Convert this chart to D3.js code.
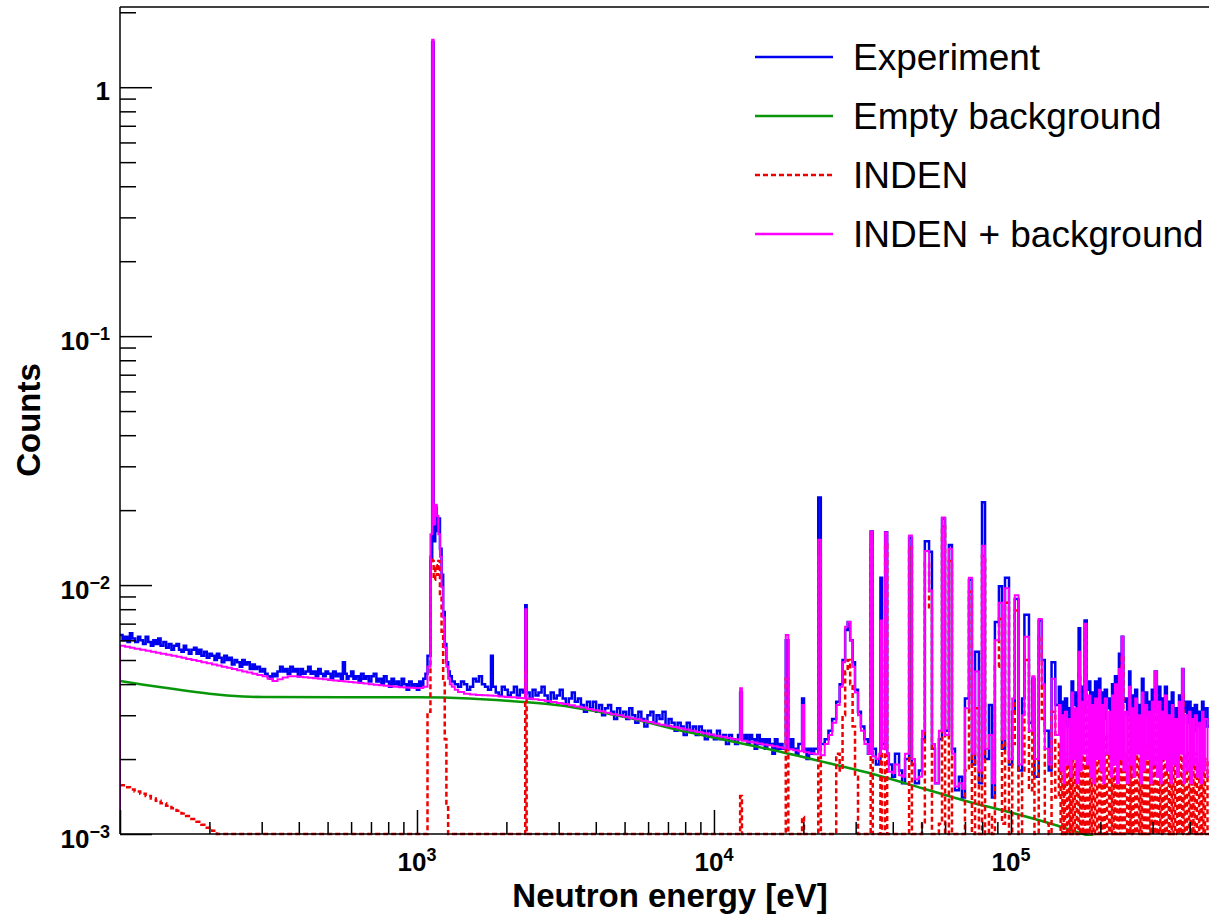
<!DOCTYPE html>
<html>
<head>
<meta charset="utf-8">
<script src="https://cdn.jsdelivr.net/npm/d3@7"></script>
<style>
  html, body { margin: 0; padding: 0; background: #fff; overflow: hidden; }
  svg { display: block; }
  text { font-family: "Liberation Sans", Arial, Helvetica, sans-serif; fill: #000; }
</style>
</head>
<body>
<svg id="chart" width="1209" height="916"></svg>
<script>
// ---- measured spectrum: bin left edges (eV) and counts ----
const experimentEdges = [
  100,102,104,106,108,110,112.5,115,117,119.5,122,124.5,127,129.5,132,134.5,137,140,143,146,
  149,152,155,158,161,164,167,170.5,174,177.5,181,184.5,188,192,196,200,204,208,212,216,
  220,224.5,229,233.5,238,243,248,253,258,263,268,273.5,279,284.5,290,296,302,308,314,320,
  326,332.5,339,346,353,360,367,374.5,382,389.5,397,405,413,421.5,430,438.5,447,456,465,474,
  483,492.5,502,512,522,532.5,543,554,563,572,580,588,600,611,623,636,648,661,674,688,
  702,715,730,744,759,774,790,805,821,837,854,870,888,905,923,941,960,979,999,1018,
  1034,1050,1068,
  1085,1110,1125,1138,1152,1166,1180,1195,1210,1225,1240,1256,1273,1290,1310,1340,
  1375,1407,1440,1475,1510,1545,1580,1617,1655,1695,1735,1775,1800,1842,1885,1930,1975,2022,2070,2120,
  2170,2220,2270,2315,2340,2395,2450,2507,2565,2627,2690,2755,2820,2887,2955,3025,3095,3170,3245,3322,
  3400,3482,3565,3650,3735,3825,3915,4010,4105,4200,4300,4400,4505,4612,4720,4835,4950,5067,5185,5310,
  5435,5565,5695,5830,5970,6110,6255,6405,6555,6710,6870,7035,7200,7370,7545,7725,7905,8095,8285,8485,
  8685,8890,9100,9315,9535,9765,9995,10235,10475,10725,10975,11235,11500,11775,12050,12250,12420,
  12670,12920,13180,13440,13710,13980,14260,14540,14830,15120,15420,15730,16040,16360,16680,17010,
  17450,17800,18150,18500,18870,19250,19800,20100,20500,20900,21320,21750,22450,22900,
  23600,24300,25000,25800,26500,27100,27650,28200,28750,29300,29850,30550,31250,32100,33000,33700,
  34250,35100,36000,36350,36800,37700,38300,
  38800,39800,40700,42000,43000,44000,45400,46400,47500,49000,50200,51300,53000,54200,
  55500,57200,58600,60000,61800,63300,64800,66800,68400,70000,72200,73900,75700,78000,
  79900,81800,84300,86300,88300,91100,93300,95500,98500,101000,103000,106000,109000,
  111000,115000,118000,120000,124000,127000,130000,134000,137000,141000,
  145000,147000,149000,150500,152000,154500,157000,158500,160000,162000,
  164000,166500,169000,171000,173000,175000,177000,180000,183000,185000,
  187000,189500,192000,195000,198000,200000,202000,204500,207000,210500,
  214000,216500,219000,221500,224000,227500,231000,233500,236000,239000,
  242000,246000,250000,252500,255000,258500,262000,266000,270000,273000,
  276000,279500,283000,287500,292000,295000,298000,301500,305000,310000,
  315000,318500,322000,326000,330000,335000,340000,344000,348000,352500,
  357000,362500,368000,372500,377000,381000,385000,391500,398000,402500,
  407000,411500,416000,423000,430000,435000,440000,445000,450000,459000
];
const experimentCounts = [
  0.0063,0.0060,0.0062,0.0059,0.0064,0.0061,0.0059,0.0062,0.0060,0.0058,
  0.0062,0.0059,0.0057,0.0060,0.0058,0.0061,0.0057,0.0059,0.0056,0.0058,
  0.0055,0.0057,0.0058,0.0055,0.0054,0.0057,0.0055,0.0053,0.0055,0.0056,
  0.0053,0.0055,0.0052,0.0054,0.0051,0.0053,0.0052,0.0050,0.0053,0.0051,
  0.0049,0.0052,0.0050,0.0051,0.0048,0.0050,0.0049,0.0047,0.0050,0.0048,
  0.0049,0.0046,0.0048,0.0046,0.0047,0.0045,0.0046,0.0044,0.0043,0.0042,
  0.0044,0.0043,0.0045,0.0047,0.0045,0.0046,0.0044,0.0047,0.0045,0.0046,
  0.0043,0.0046,0.0044,0.0045,0.0047,0.0044,0.0045,0.0043,0.0046,0.0044,
  0.0043,0.0045,0.0044,0.0042,0.0045,0.0043,0.0044,0.0042,0.0049,0.0044,
  0.0042,0.0043,0.0045,0.0042,0.0043,0.0041,0.0044,0.0042,0.0043,0.0041,
  0.0043,0.0044,0.0041,0.0042,0.0040,0.0043,0.0041,0.0039,0.0042,0.0040,
  0.0041,0.0039,0.0042,0.0040,0.0038,0.0041,0.0039,0.0040,0.0038,0.0041,
  0.0039,0.0042,0.0044,
  0.0052,0.0125,1.52,0.0150,0.0205,0.0165,0.0185,0.0140,0.0110,0.0078,0.0058,0.0049,
  0.0045,0.0043,0.0041,0.0040,
  0.0039,0.0041,0.0040,0.0038,0.0039,0.0042,0.0041,0.0043,0.0040,0.0039,
  0.0038,0.0052,0.0039,0.0037,0.0036,0.0039,0.0038,0.0036,0.0037,0.0039,
  0.0036,0.0038,0.0037,0.0083,0.0037,0.0035,0.0038,0.0036,0.0037,0.0039,
  0.0036,0.0034,0.0037,0.0035,0.0036,0.0038,0.0035,0.0033,0.0035,0.0037,
  0.0034,0.0035,0.0033,0.0031,0.0034,0.0032,0.0034,0.0031,0.0033,0.0030,
  0.0032,0.0033,0.0031,0.0029,0.0032,0.0030,0.0031,0.0029,0.0032,0.0030,
  0.0028,0.0031,0.0029,0.0027,0.0030,0.0031,0.0028,0.0030,0.0029,0.0031,
  0.0027,0.0029,0.0028,0.0026,0.0028,0.0027,0.0025,0.0028,0.0026,0.0027,
  0.0025,0.0027,0.0026,0.0024,0.0026,0.0025,0.0024,0.0026,0.0024,0.0025,
  0.0023,0.0025,0.0024,0.0023,0.0025,0.0037,0.0024,
  0.0025,0.0023,0.0025,0.0024,0.0022,0.0025,0.0023,0.0024,0.0022,0.0024,
  0.0023,0.0021,0.0024,0.0022,0.0023,0.0022,0.0060,0.0022,0.0024,0.0022,
  0.0021,0.0023,0.0035,0.0022,0.0020,0.0022,0.0021,0.0022,0.0225,0.0023,
  0.0024,0.0026,0.0029,0.0034,0.0040,0.0050,0.0066,0.0071,0.0060,0.0049,
  0.0038,0.0031,0.0027,0.0024,0.0021,0.0164,0.0022,0.0019,0.0020,0.0107,
  0.0023,0.0163,0.0021,
  0.0019,0.0017,0.0021,0.0018,0.0016,0.0020,0.0155,0.0019,0.0016,0.0018,
  0.0024,0.0150,0.0136,0.0022,0.0016,0.0024,0.0185,0.0026,0.0145,0.0022,
  0.0015,0.0017,0.0014,0.0035,0.0105,0.0019,0.0054,0.0016,0.0215,0.0020,
  0.0033,0.0014,0.0071,0.0099,0.0022,0.0107,0.0019,0.0031,0.0088,0.0018,
  0.0035,0.0076,0.0028,0.0042,0.0017,0.0072,0.0050,0.0026,0.0018,0.0049,
  0.0033,
  0.0039,0.0030,0.0034,0.0028,0.0035,0.0027,0.0032,0.0029,0.0041,0.0033,
  0.0037,0.0030,0.0067,0.0034,0.0039,0.0031,0.0072,0.0038,0.0041,0.0032,
  0.0037,0.0030,0.0041,0.0033,0.0042,0.0031,0.0037,0.0029,0.0038,0.0032,
  0.0035,0.0030,0.0040,0.0031,0.0043,0.0033,0.0053,0.0036,0.0062,0.0034,
  0.0035,0.0030,0.0045,0.0031,0.0036,0.0028,0.0038,0.0030,0.0033,0.0029,
  0.0042,0.0032,0.0037,0.0030,0.0034,0.0029,0.0038,0.0031,0.0045,0.0034,
  0.0039,0.0030,0.0035,0.0031,0.0039,0.0029,0.0034,0.0030,0.0037,0.0028,
  0.0032,0.0029,0.0036,0.0030,0.0046,0.0031,0.0034,0.0028,0.0034,0.0027,
  0.0032,0.0026,0.0033,0.0027,0.0031,0.0026,0.0034,0.0027,0.0032,0.0027
];
const lastBinEdge = 468000;

// ---- simulation histograms: bin left edges (eV) ----
const simEdges = [
  100,104,108,112,117,122,127,132,137,143,149,155,161,167,174,181,188,196,204,212,
  220,229,238,248,258,268,279,290,302,314,326,339,353,367,382,397,413,430,447,465,
  483,502,522,543,563,572,588,611,636,661,688,715,744,774,805,837,870,905,941,979,
  1018,1050,
  1085,1110,1125,1138,1152,1166,1180,1195,1210,1225,1240,1256,1273,1290,1310,1340,
  1375,1440,1510,1580,1655,1735,1775,1800,1885,1975,2070,2170,2270,2315,2340,2450,
  2565,2690,2820,2955,3095,3245,3400,3565,3735,3915,4105,4300,4505,4720,4950,5185,
  5435,5695,5970,6255,6555,6870,7200,7545,7905,8285,8685,9100,9535,9995,10475,10975,
  11500,12050,12250,12420,
  12920,13440,13980,14540,15120,15730,16360,17010,17450,17800,18500,19250,19800,20100,
  20900,21750,22450,22900,23600,24300,25000,25800,26500,27100,27650,28200,28750,29300,
  29850,30550,31250,32100,33000,33700,34250,35100,36000,36350,36800,37700,38300,
  38800,39800,40700,42000,43000,44000,45400,46400,47500,49000,50200,51300,53000,54200,
  55500,57200,58600,60000,61800,63300,64800,66800,68400,70000,72200,73900,75700,78000,
  79900,81800,84300,86300,88300,91100,93300,95500,98500,101000,103000,106000,109000,
  111000,115000,118000,120000,124000,127000,130000,134000,137000,141000,
  145000,147000,149000,150500,152000,154500,157000,158500,160000,162000,
  164000,166500,169000,171000,173000,175000,177000,180000,183000,185000,
  187000,189500,192000,195000,198000,200000,202000,204500,207000,210500,
  214000,216500,219000,221500,224000,227500,231000,233500,236000,239000,
  242000,246000,250000,252500,255000,258500,262000,266000,270000,273000,
  276000,279500,283000,287500,292000,295000,298000,301500,305000,310000,
  315000,318500,322000,326000,330000,335000,340000,344000,348000,352500,
  357000,362500,368000,372500,377000,381000,385000,391500,398000,402500,
  407000,411500,416000,423000,430000,435000,440000,445000,450000,459000
];

// ---- INDEN simulation plus empty-sample background ----
const indenPlusBkgCounts = [
  0.0057,0.00565,0.0056,0.00555,0.0055,0.00545,0.0054,0.00535,0.0053,0.00525,
  0.0052,0.00515,0.0051,0.00505,0.0050,0.00495,0.0049,0.00485,0.0048,0.00475,
  0.0047,0.00465,0.0046,0.00455,0.0045,0.00445,0.0044,0.00435,0.0043,0.0042,
  0.00412,0.00418,0.00425,0.0043,0.0043,0.00428,0.00426,0.00424,0.00422,0.0042,
  0.00418,0.00416,0.00414,0.00412,0.00411,0.0041,0.00408,0.00406,0.00404,0.00402,
  0.0040,0.00398,0.00396,0.00394,0.00392,0.0039,0.00389,0.00388,0.00387,0.00386,
  0.00386,0.0039,
  0.0047,0.0160,1.55,0.0175,0.0210,0.0190,0.0160,0.0130,0.0098,0.0074,0.0056,0.0047,
  0.0042,0.0040,0.0039,0.0038,
  0.00372,0.00366,0.00363,0.00362,0.00361,0.0036,0.0036,0.00359,0.00357,0.00355,
  0.00354,0.00352,0.00351,0.0080,0.0035,0.00348,0.00345,0.00342,0.00339,0.00336,
  0.00333,0.00329,0.00325,0.00322,0.00318,0.00314,0.00311,0.00307,0.00303,0.0030,
  0.00296,0.00292,0.00289,0.00285,0.00282,0.00278,0.00275,0.00272,0.00269,0.00266,
  0.00263,0.0026,0.00257,0.00254,0.00251,0.00248,0.00246,0.00243,0.0024,0.00239,
  0.00385,0.00237,
  0.00235,0.00233,0.00231,0.00229,0.00227,0.00225,0.00223,0.00221,0.0063,0.00219,
  0.00217,0.00215,0.0033,0.00213,0.00211,0.00209,0.0152,0.00207,0.0023,0.0025,
  0.0028,0.0033,0.0039,0.0049,0.0068,0.0071,0.0060,0.0047,0.0037,0.0030,
  0.0026,0.0023,0.0021,0.0164,0.00205,0.0020,0.0021,0.0072,0.0022,0.0163,
  0.0021,
  0.00178,0.00176,0.0019,0.00172,0.0017,0.0021,0.0158,0.0020,0.00166,0.0017,
  0.0026,0.0137,0.0095,0.0023,0.0016,0.0026,0.0187,0.0025,0.0140,0.0021,
  0.00155,0.0016,0.00152,0.0032,0.0107,0.0021,0.0045,0.0018,0.0144,0.0022,
  0.0025,0.0016,0.0060,0.0085,0.0024,0.0097,0.0020,0.0035,0.0091,0.0019,
  0.0030,0.0062,0.0026,0.0043,0.0020,0.0073,0.0040,0.0022,0.0019,0.0042,
  0.0025,
  0.0033,0.0018,0.0030,0.0016,0.0031,0.0019,0.0029,0.0017,0.0037,0.0020,
  0.0032,0.0016,0.0054,0.0018,0.0034,0.0021,0.0070,0.0019,0.0036,0.0017,
  0.0033,0.0016,0.0035,0.0020,0.0038,0.0018,0.0033,0.0016,0.0035,0.0021,
  0.0031,0.0017,0.0036,0.0019,0.0040,0.0016,0.0046,0.0020,0.0062,0.0018,
  0.0031,0.0016,0.0039,0.0019,0.0032,0.0017,0.0035,0.0021,0.0030,0.0016,
  0.0037,0.0018,0.0033,0.0020,0.0031,0.0016,0.0034,0.0019,0.0045,0.0017,
  0.0034,0.0016,0.0031,0.0020,0.0036,0.0018,0.0030,0.0016,0.0033,0.0019,
  0.0029,0.0017,0.0034,0.0021,0.0046,0.0016,0.0030,0.0018,0.0031,0.0016,
  0.0029,0.0019,0.0030,0.0017,0.0028,0.0016,0.0031,0.0018,0.0029,0.0017
];

// ---- INDEN simulation alone ----
const indenCounts = [
  0.00157,0.00154,0.00151,0.00148,0.00145,0.00142,0.00139,0.00136,0.00133,0.00130,
  0.00127,0.00124,0.00121,0.00118,0.00115,0.00112,0.00109,0.00106,0.00103,0,
  0,0,0,0,0,0,0,0,0,0,
  0,0,0,0,0,0,0,0,0,0,
  0,0,0,0,0,0,0,0,0,0,
  0,0,0,0,0,0,0,0,0,0,
  0,0,
  0.0031,0.0130,0.0125,0.0105,0.0120,0.0110,0.0125,0.0091,0.0065,0.0042,0.0024,0.0013,
  0,0,0,0,
  0,0,0,0,0,0,0,0,0,0,
  0,0,0,0.0045,0,0,0,0,0,0,
  0,0,0,0,0,0,0,0,0,0,
  0,0,0,0,0,0,0,0,0,0,
  0,0,0,0,0,0,0,0,0,0,
  0.00142,0,
  0,0,0,0,0,0,0,0,0.0042,0,
  0,0,0.00117,0,0,0,0.0132,0,0.0002,0.0003,
  0.0008,0.0021,0.0018,0.0030,0.0045,0.0050,0.0040,0.0027,0.0017,0.0010,
  0.0005,0,0,0.0145,0,0,0.0003,0.0054,0.0003,0.0146,
  0.0002,
  0,0,0.0003,0,0,0.0005,0.0142,0.0004,0,0.0002,
  0.0011,0.0122,0.0080,0.0008,0,0.0011,0.0172,0.0010,0.0125,0.0007,
  0,0.0002,0,0.0018,0.0094,0.0008,0.0032,0.0005,0.0131,0.0009,
  0.0012,0.0003,0.0047,0.0073,0.0011,0.0085,0.0008,0.0023,0.0079,0.0007,
  0.0018,0.0050,0.0015,0.0032,0.0009,0.0062,0.0029,0.0011,0.0008,0.0031,
  0.0014,
  0.0023,0,0.0020,0,0.0021,0,0.0019,0,0.0027,0,
  0.0022,0,0.0044,0,0.0024,0,0.0060,0,0.0026,0,
  0.0023,0,0.0025,0,0.0028,0,0.0023,0,0.0025,0,
  0.0021,0,0.0026,0,0.0030,0,0.0036,0,0.0052,0,
  0.0021,0,0.0029,0,0.0022,0,0.0025,0,0.0020,0,
  0.0027,0,0.0023,0,0.0021,0,0.0024,0,0.0036,0,
  0.0025,0,0.0022,0,0.0027,0,0.0021,0,0.0024,0,
  0.0020,0,0.0025,0,0.0037,0,0.0021,0,0.0022,0,
  0.0020,0,0.0021,0,0.0019,0,0.0022,0,0.0020,0
];

// ---- empty-sample background (smooth curve) ----
const bkgEnergy = [100,120,150,200,260,300,1000,1500,2000,3000,5000,8000,12000,17000,
                   25000,35000,50000,70000,100000,140000,180000,300000,468000];
const bkgCounts = [0.00412,0.00398,0.00383,0.00366,0.00357,0.00355,0.00354,0.00350,0.00343,
                   0.00329,0.00295,0.00258,0.00233,0.00213,0.00191,0.00173,0.00153,0.00136,
                   0.00122,0.00109,0.00099,0.00088,0.00077];

// ---- axis decorations ----
const xMajorExponents = [3, 4, 5];
const yMajorExponents = [-3, -2, -1, 0];
const legendLabels = ["Experiment", "Empty background", "INDEN", "INDEN + background"];

// ---- layout ----
const plotLeft = 120, plotRight = 1210, plotTop = 7, plotBottom = 834;
const xMin = 100, yMin = 1e-3, yMax = 2.1;

const svg = d3.select("#chart");
const x = d3.scaleLog().domain([xMin, lastBinEdge]).range([plotLeft, plotRight]);
const y = d3.scaleLog().domain([yMin, yMax]).range([plotBottom, plotTop]);

svg.append("defs").append("clipPath").attr("id", "plotArea")
  .append("rect")
  .attr("x", plotLeft).attr("y", plotTop)
  .attr("width", plotRight - plotLeft).attr("height", plotBottom - plotTop + 2);

// contents below the axis minimum sit on the minimum, as in a histogram frame
const yClamped = v => y(Math.max(v, yMin));

function histogramPoints(edges, counts, startFromZero) {
  const pts = edges.map((e, i) => [e, counts[i]]);
  pts.push([lastBinEdge, counts[counts.length - 1]]);
  if (startFromZero) pts.unshift([edges[0], 0]);
  return pts;
}

const stepLine = d3.line()
  .x(d => x(d[0]))
  .y(d => yClamped(d[1]))
  .curve(d3.curveStepAfter);

const smoothLine = d3.line()
  .x(d => x(d[0]))
  .y(d => y(d[1]))
  .curve(d3.curveMonotoneX);

const series = [
  { key: "exp",   pts: histogramPoints(experimentEdges, experimentCounts, false), line: stepLine,
    color: "#0000f0", width: 2.5, dash: null },
  { key: "bkg",   pts: bkgEnergy.map((e, i) => [e, bkgCounts[i]]), line: smoothLine,
    color: "#0a960a", width: 2.5, dash: null },
  { key: "inden", pts: histogramPoints(simEdges, indenCounts, false), line: stepLine,
    color: "#f00000", width: 2.5, dash: "5,3" },
  { key: "sum",   pts: histogramPoints(simEdges, indenPlusBkgCounts, true), line: stepLine,
    color: "#ff00ff", width: 2, dash: null }
];

const dataLayer = svg.append("g").attr("clip-path", "url(#plotArea)");
dataLayer.selectAll("path.series")
  .data(series)
  .join("path")
  .attr("class", "series")
  .attr("d", s => s.line(s.pts))
  .attr("fill", "none")
  .attr("stroke", s => s.color)
  .attr("stroke-width", s => s.width)
  .attr("stroke-dasharray", s => s.dash)
  .attr("stroke-linejoin", "miter")
  .attr("stroke-linecap", "butt");

// ---- axes: ticks point into the frame ----
const isMajor = v => Math.abs(Math.log10(v) - Math.round(Math.log10(v))) < 1e-9;
const yTicksAll = y.ticks();
const xTicksAll = x.ticks();

function tickAxis(axisGen, transform) {
  const g = svg.append("g").attr("transform", transform).call(axisGen);
  g.select(".domain").remove();
  g.selectAll(".tick line").attr("stroke", "#000").attr("stroke-width", 1.5);
  return g;
}
tickAxis(d3.axisLeft(y).tickValues(yTicksAll.filter(v => !isMajor(v))).tickSize(-16).tickFormat(""),
  `translate(${plotLeft},0)`);
tickAxis(d3.axisLeft(y).tickValues(yTicksAll.filter(isMajor)).tickSize(-32).tickFormat(""),
  `translate(${plotLeft},0)`);
tickAxis(d3.axisBottom(x).tickValues(xTicksAll.filter(v => !isMajor(v))).tickSize(-12).tickFormat(""),
  `translate(0,${plotBottom})`);
tickAxis(d3.axisBottom(x).tickValues(xTicksAll.filter(isMajor)).tickSize(-24).tickFormat(""),
  `translate(0,${plotBottom})`);

// frame
const frame = svg.append("g").attr("stroke", "#000").attr("stroke-width", 1.5).attr("fill", "none");
frame.append("line").attr("x1", plotLeft).attr("x2", plotLeft).attr("y1", plotTop).attr("y2", plotBottom);
frame.append("line").attr("x1", plotLeft).attr("x2", plotRight).attr("y1", plotBottom).attr("y2", plotBottom);
frame.append("line").attr("x1", plotLeft).attr("x2", plotRight).attr("y1", plotTop).attr("y2", plotTop);

// tick labels in power-of-ten notation
const yLabels = svg.append("g").attr("font-weight", "bold").attr("font-size", 26).attr("text-anchor", "end");
yMajorExponents.forEach(p => {
  const t = yLabels.append("text").attr("x", plotLeft - 10)
    .attr("y", y(Math.pow(10, p)) + (p === 0 ? 13 : 14));
  if (p === 0) { t.text("1"); return; }
  t.append("tspan").text("10");
  t.append("tspan").attr("font-size", 18).attr("dy", -10).text("\u2212" + Math.abs(p));
});

const xLabels = svg.append("g").attr("font-weight", "bold").attr("font-size", 26).attr("text-anchor", "middle");
xMajorExponents.forEach(p => {
  const t = xLabels.append("text").attr("x", x(Math.pow(10, p))).attr("y", plotBottom + 37);
  t.append("tspan").text("10");
  t.append("tspan").attr("font-size", 18).attr("dy", -10).text(String(p));
});

// axis titles
svg.append("text").attr("x", 670).attr("y", 907)
  .attr("text-anchor", "middle").attr("font-weight", "bold").attr("font-size", 33)
  .text("Neutron energy [eV]");
svg.append("text").attr("transform", "translate(40,420) rotate(-90)")
  .attr("text-anchor", "middle").attr("font-weight", "bold").attr("font-size", 33)
  .text("Counts");

// legend
const legendRowY = [57, 116, 175, 234];
const legend = svg.append("g");
const rows = legend.selectAll("g.row")
  .data(legendLabels)
  .join("g")
  .attr("class", "row")
  .attr("transform", (d, i) => `translate(0,${legendRowY[i]})`);
rows.append("line")
  .attr("x1", 755).attr("x2", 833).attr("y1", 0).attr("y2", 0)
  .attr("stroke", (d, i) => series[i].color)
  .attr("stroke-width", 2.5)
  .attr("stroke-dasharray", (d, i) => series[i].dash ? "5,3" : null);
rows.append("text")
  .attr("x", 853).attr("y", 13)
  .attr("font-size", 37)
  .text(d => d);
</script>
</body>
</html>
